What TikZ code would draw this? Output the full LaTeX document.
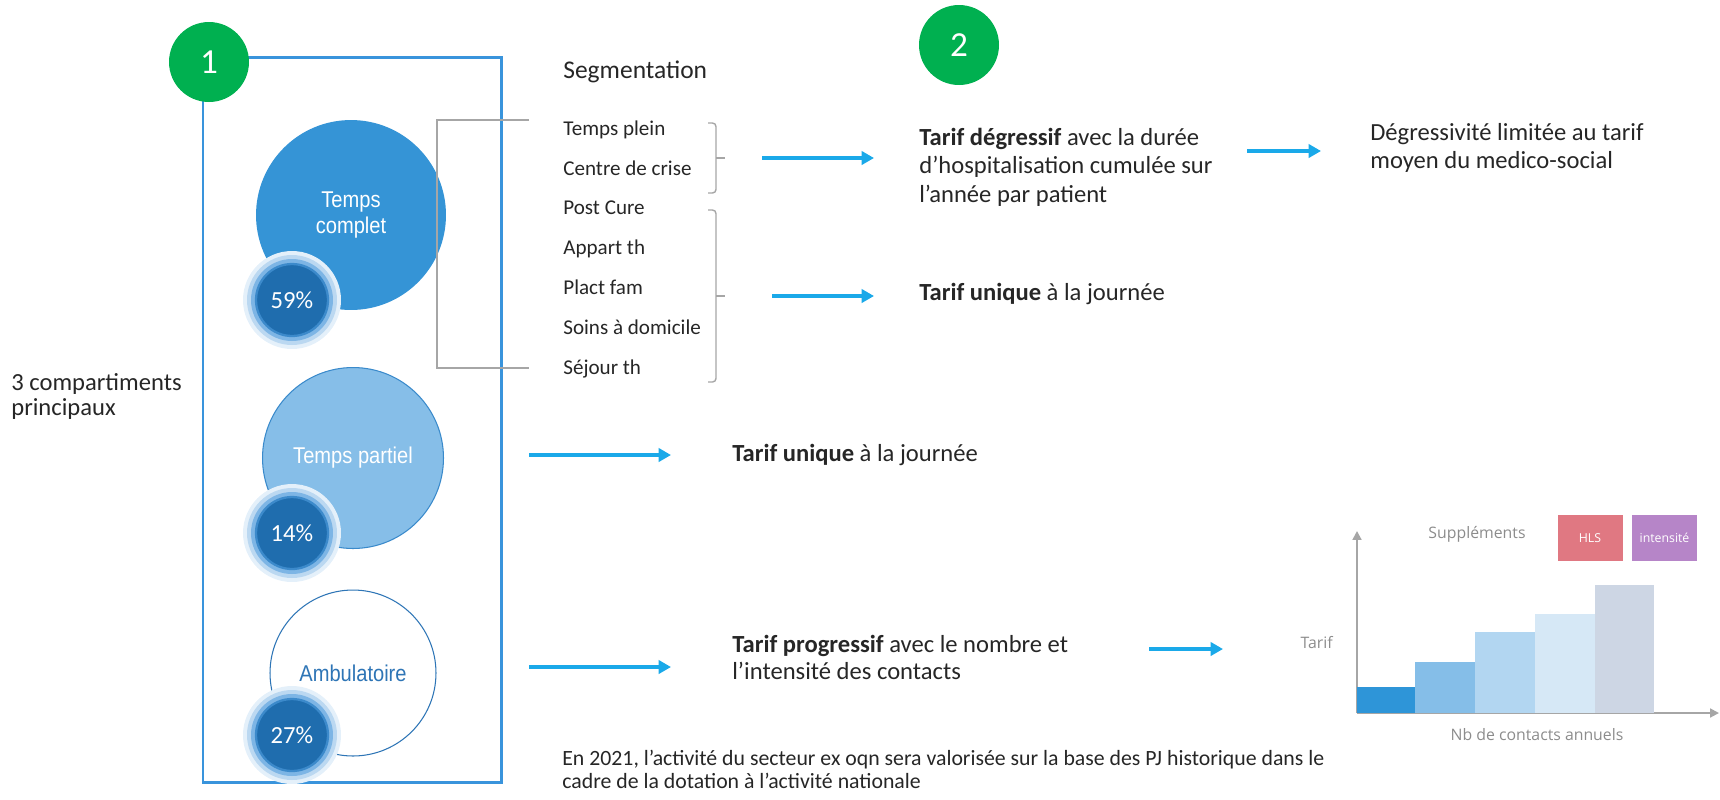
\documentclass[tikz,border=0pt]{standalone}
\usepackage{fontspec}
\setmainfont{Carlito}
\newfontfamily\narrowfont[FakeStretch=0.88]{Liberation Sans}
\newfontfamily\lightsans{Open Sans}
\usetikzlibrary{arrows.meta}

\definecolor{okgreen}{HTML}{00B050}
\definecolor{frameblue}{HTML}{3994DC}
\definecolor{tcblue}{HTML}{3594D6}
\definecolor{tpblue}{HTML}{86BEE8}
\definecolor{tpedge}{HTML}{3A8ACB}
\definecolor{ambedge}{HTML}{2E75B6}
\definecolor{badgedark}{HTML}{1F6DAE}
\definecolor{badgeedge}{HTML}{3C8ACB}
\definecolor{glowa}{HTML}{7DB5E5}
\definecolor{glowb}{HTML}{BBD8F1}
\definecolor{glowc}{HTML}{E4F0FA}
\definecolor{arrcyan}{HTML}{1AA9E9}
\definecolor{bracegray}{HTML}{A6A6A6}
\definecolor{txtc}{HTML}{262626}
\definecolor{chartgray}{HTML}{8C8C8C}
\definecolor{barA}{HTML}{2E95D8}
\definecolor{barB}{HTML}{85BEE8}
\definecolor{barC}{HTML}{B2D6F1}
\definecolor{barD}{HTML}{D6E8F6}
\definecolor{barE}{HTML}{CDD6E4}
\definecolor{hlsred}{HTML}{E07882}
\definecolor{intpurple}{HTML}{B685C8}

\def\listfont{\fontsize{12}{14}\selectfont}
\def\bodyfont{\fontsize{14}{16}\selectfont}
\def\notefont{\fontsize{12.4}{14}\selectfont}
\def\circfont{\narrowfont\fontsize{13}{15}\selectfont}
\def\axfont{\lightsans\fontsize{9}{11}\selectfont}

% percentage badge: name, position, text
\newcommand{\badge}[3]{%
  \fill[glowc] (#2) circle (0.98cm);
  \fill[glowb] (#2) circle (0.9cm);
  \fill[glowa] (#2) circle (0.82cm);
  \node[badgedot] (#1) at (#2) {#3};
}

\begin{document}
\begin{tikzpicture}[x=0.02cm, y=-0.02cm,
  greendot/.style={circle, fill=okgreen, minimum size=1.6cm, inner sep=0pt, text=white, font=\fontsize{20}{22}\selectfont},
  badgedot/.style={circle, fill=badgedark, draw=badgeedge, line width=1.3pt, minimum size=1.44cm, inner sep=0pt, text=white, font=\fontsize{14}{16}\selectfont},
  txt/.style={anchor=base west, inner sep=0pt, text=txtc},
  cyanarrow/.style={arrcyan, line width=2.3pt, -{Triangle[length=7pt, width=7.5pt]}},
  axis/.style={bracegray, line width=1.1pt, -{Triangle[length=5pt, width=5pt]}},
  suppbox/.style={minimum width=1.3cm, minimum height=0.92cm, inner sep=0pt, text=white, font=\lightsans\fontsize{7}{8}\selectfont}]
  \useasboundingbox (0,0) rectangle (1720,799);

  % frame of the three compartments
  \draw[frameblue, line width=1.7pt] (203,57) rectangle (501,782);
  \node[greendot] (n1) at (209,62) {1};
  \node[greendot] (n2) at (959,45) {2};

  % compartments
  \node[circle, fill=tcblue, minimum size=3.8cm, inner sep=0pt, align=center, text=white, font=\circfont] (tc) at (351,215) {Temps\\complet};
  \badge{b59}{292,300}{59\%}
  \node[circle, fill=tpblue, draw=tpedge, line width=0.6pt, minimum size=3.62cm, inner sep=0pt, text=white, font=\circfont] (tp) at (353,458) {Temps partiel};
  \badge{b14}{292,533}{14\%}
  \node[circle, fill=white, draw=ambedge, line width=0.6pt, minimum size=3.32cm, inner sep=0pt, text=ambedge, font=\circfont] (amb) at (353,673) {Ambulatoire};
  \badge{b27}{292,735}{27\%}

  % left label
  \node[txt, font=\fontsize{14}{16}\selectfont] (comp1) at (11,390) {3 compartiments};
  \node[txt, font=\fontsize{14}{16}\selectfont] (comp2) at (11,415) {principaux};

  % segmentation
  \node[txt, font=\fontsize{14.5}{16}\selectfont] (seg) at (563,78) {Segmentation};
  \node[txt, font=\listfont] (s1) at (563,135) {Temps plein};
  \node[txt, font=\listfont] (s2) at (563,175) {Centre de crise};
  \node[txt, font=\listfont] (s3) at (563,214) {Post Cure};
  \node[txt, font=\listfont] (s4) at (563,254) {Appart th};
  \node[txt, font=\listfont] (s5) at (563,294) {Plact fam};
  \node[txt, font=\listfont] (s6) at (563,334) {Soins à domicile};
  \node[txt, font=\listfont] (s7) at (563,374) {Séjour th};
  \draw[bracegray, line width=1.1pt] (529,120) -- (437,120) -- (437,368) -- (529,368);

  % braces
  \draw[bracegray, line width=0.8pt, rounded corners=2pt] (708,123) -- (716,123) -- (716,193) -- (708,193);
  \draw[bracegray, line width=0.8pt] (716,158) -- (725,158);
  \draw[bracegray, line width=0.8pt, rounded corners=2pt] (708,210) -- (716,210) -- (716,382) -- (708,382);
  \draw[bracegray, line width=0.8pt] (716,296) -- (725,296);

  % tarif texts
  \node[txt, font=\bodyfont] (deg1) at (919,145) {\textbf{Tarif dégressif} avec la durée};
  \node[txt, font=\bodyfont] (deg2) at (919,173) {d’hospitalisation cumulée sur};
  \node[txt, font=\bodyfont] (deg3) at (919,202) {l’année par patient};
  \node[txt, font=\bodyfont] (lim1) at (1370,140) {Dégressivité limitée au tarif};
  \node[txt, font=\bodyfont] (lim2) at (1370,168) {moyen du medico-social};
  \node[txt, font=\bodyfont] (uni1) at (919,300) {\textbf{Tarif unique} à la journée};
  \node[txt, font=\bodyfont] (uni2) at (732,461) {\textbf{Tarif unique} à la journée};
  \node[txt, font=\bodyfont] (prog1) at (732,652) {\textbf{Tarif progressif} avec le nombre et};
  \node[txt, font=\bodyfont] (prog2) at (732,679) {l’intensité des contacts};
  \node[txt, font=\notefont] (note1) at (562,765) {En 2021, l’activité du secteur ex oqn sera valorisée sur la base des PJ historique dans le};
  \node[txt, font=\notefont] (note2) at (562,788) {cadre de la dotation à l’activité nationale};

  % arrows
  \coordinate (a1) at (762,158); \coordinate (e1) at (874,158);
  \coordinate (a2) at (772,296); \coordinate (e2) at (874,296);
  \coordinate (a3) at (1247,151); \coordinate (e3) at (1321,151);
  \coordinate (a4) at (529,455); \coordinate (e4) at (671,455);
  \coordinate (a5) at (529,667); \coordinate (e5) at (671,667);
  \coordinate (a6) at (1149,649); \coordinate (e6) at (1223,649);
  \draw[cyanarrow] (a1) -- (e1);
  \draw[cyanarrow] (a2) -- (e2);
  \draw[cyanarrow] (a3) -- (e3);
  \draw[cyanarrow] (a4) -- (e4);
  \draw[cyanarrow] (a5) -- (e5);
  \draw[cyanarrow] (a6) -- (e6);

  % chart
  \coordinate (orig) at (1357,713);
  \coordinate (ytop) at (1357,531);
  \coordinate (xend) at (1719,713);
  \draw[axis] (orig) -- (ytop);
  \draw[axis] (orig) -- (xend);
  \fill[barA] (1357,687) rectangle (1415,713);
  \fill[barB] (1415,662) rectangle (1475,713);
  \fill[barC] (1475,632) rectangle (1535,713);
  \fill[barD] (1535,614) rectangle (1595,713);
  \fill[barE] (1595,585) rectangle (1654,713);
  \node[anchor=base, inner sep=0pt, text=chartgray, font=\axfont] (supp) at (1477,538) {Suppléments};
  \node[anchor=base east, inner sep=0pt, text=chartgray, font=\axfont] (tarax) at (1333,648) {Tarif};
  \node[anchor=base, inner sep=0pt, text=chartgray, font=\axfont] (nbc) at (1537,740) {Nb de contacts annuels};
  \node[suppbox, fill=hlsred] (hls) at (1590,538) {HLS};
  \node[suppbox, fill=intpurple] (inten) at (1664.5,538) {intensité};
\end{tikzpicture}
\end{document}
